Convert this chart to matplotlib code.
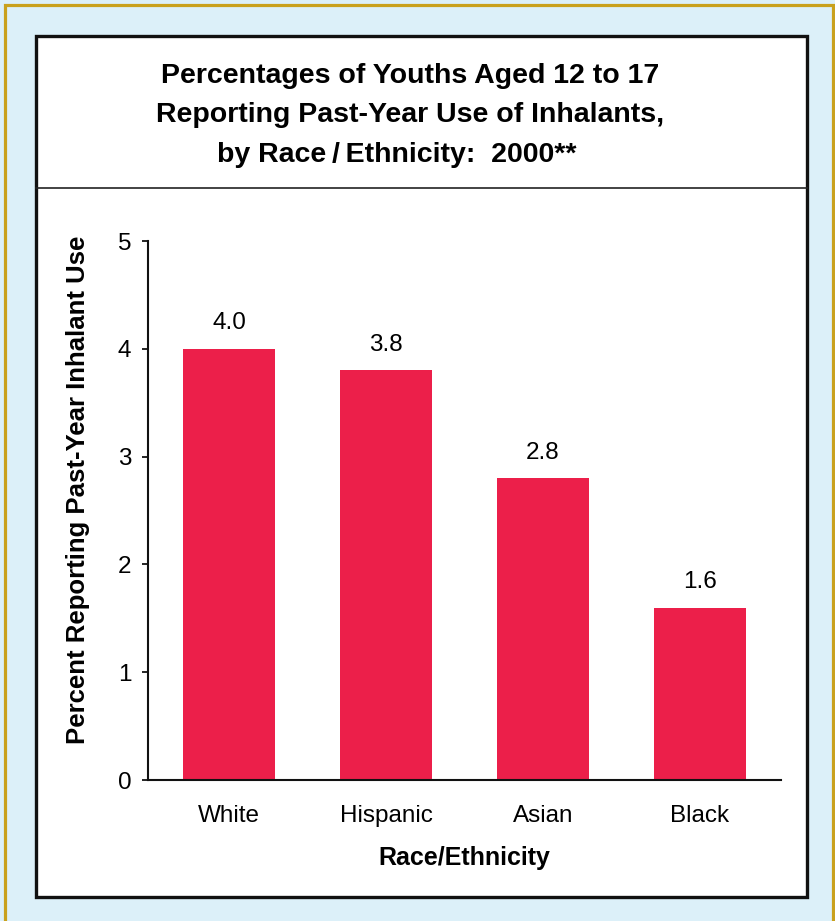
import matplotlib
matplotlib.use("Agg")
import matplotlib.pyplot as plt
from matplotlib.patches import Rectangle
from matplotlib.lines import Line2D

plt.rcParams['font.family'] = ['Liberation Sans', 'DejaVu Sans']

# data
groups = ["White", "Hispanic", "Asian", "Black"]
values = [4.0, 3.8, 2.8, 1.6]
yticks = [0, 1, 2, 3, 4, 5]
title_lines = ["Percentages of Youths Aged 12 to 17",
               "Reporting Past-Year Use of Inhalants,",
               "by Race\u2009/\u2009Ethnicity:  2000**"]

W, H = 835, 921
fig = plt.figure(figsize=(W / 100, H / 100), dpi=100)
fig.patch.set_facecolor("#dcf0f9")


def fx(px):
    return px / W


def fy(py):
    return 1 - py / H


# gold frame (bottom edge runs off the page)
fig.patches.append(Rectangle((fx(4.5), fy(940)), fx(828), 935 / H,
                             transform=fig.transFigure, facecolor="none",
                             edgecolor="#c9a11d", linewidth=2.3, zorder=0))
# white panel with black border
fig.patches.append(Rectangle((fx(35.5), fy(897)), fx(771), 861 / H,
                             transform=fig.transFigure, facecolor="white",
                             edgecolor="#111111", linewidth=2.4, zorder=1))
fig.lines.append(Line2D([fx(35.5), fx(806.5)], [fy(188), fy(188)],
                        transform=fig.transFigure, color="#222222",
                        linewidth=1.2, zorder=2))

# title
fig.text(fx(410), fy(83), title_lines[0], ha="center", va="baseline",
         fontsize=20.5, fontweight="bold")
fig.text(fx(410), fy(122), title_lines[1], ha="center", va="baseline",
         fontsize=20.5, fontweight="bold")
fig.text(fx(397), fy(162), title_lines[2], ha="center", va="baseline",
         fontsize=20.5, fontweight="bold")

ax = fig.add_axes([fx(148), fy(780), fx(633), 539 / H])
ax.set_facecolor("none")
ax.set_zorder(3)

x = range(len(groups))
bars = ax.bar(x, values, width=0.586, color="#ec1f4a", edgecolor="none")
for b, v in zip(bars, values):
    ax.annotate(f"{v:.1f}", (b.get_x() + b.get_width() / 2, v),
                xytext=(0, 14), textcoords="offset points",
                ha="center", va="baseline", fontsize=17.5)

ax.set_xlim(-0.516, 3.516)
ax.set_ylim(0, 5)
ax.set_yticks(yticks)
ax.set_xticks(list(x))
ax.set_xticklabels(groups)

for s in ["top", "right"]:
    ax.spines[s].set_visible(False)
for s in ["left", "bottom"]:
    ax.spines[s].set_linewidth(1.5)
    ax.spines[s].set_color("#111111")

ax.tick_params(axis="y", direction="out", length=4, width=1.2,
               pad=8, labelsize=17.5)
ax.tick_params(axis="x", length=0, pad=18, labelsize=17.5)

ax.set_xlabel("Race/Ethnicity", fontsize=18, fontweight="bold", labelpad=14)
fig.text(fx(78), fy(490), "Percent Reporting Past-Year Inhalant Use",
         rotation=90, ha="center", va="center", fontsize=18.5,
         fontweight="bold")

fig.savefig("out.png", dpi=100, facecolor=fig.get_facecolor())
